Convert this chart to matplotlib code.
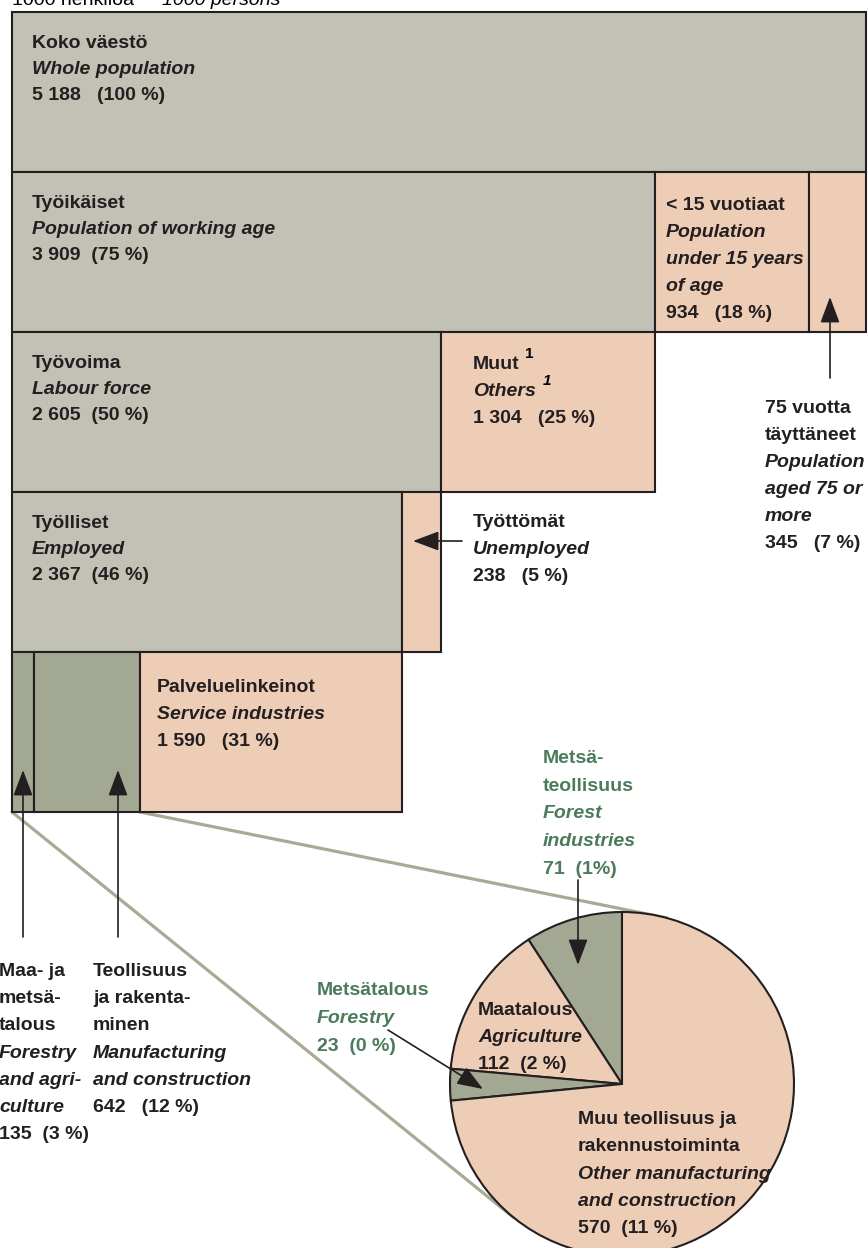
import numpy as np
import matplotlib.pyplot as plt
from matplotlib.patches import ConnectionPatch

plt.rcParams['font.family'] = ['Liberation Sans', 'DejaVu Sans']

# 1000 persons
row_values = [
    [5188],
    [3909, 934, 345],
    [2605, 1304],
    [2367, 238],
    [135, 642, 1590],
]
pie_labels = ['Metsäteollisuus', 'Maatalous', 'Metsätalous', 'Muu teollisuus']
pie_values = [71, 112, 23, 570]

GREY = '#c1c1b5'
PEACH = '#eecdb7'
GREEN = '#a3a893'
EDGE = '#231f20'
LINK = '#a7ab96'
TXT_GREEN = '#4b7b5b'

row_colors = [
    [GREY],
    [GREY, PEACH, PEACH],
    [GREY, PEACH],
    [GREY, PEACH],
    [GREEN, GREEN, PEACH],
]
pie_colors = [GREEN, PEACH, GREEN, PEACH]

W, H = 868, 1248
X0, S = 12, 0.1646      # left edge (px) and px per 1000 persons
TOP, ROW_H = 12, 160

fig = plt.figure(figsize=(W / 100, H / 100), dpi=100)

# bars: x in 1000 persons, y in pixels
ax = fig.add_axes([0, 0, 1, 1])
ax.set_xlim(-X0 / S, (W - X0) / S)
ax.set_ylim(H, 0)
ax.axis('off')
for i, (vals, cols) in enumerate(zip(row_values, row_colors)):
    lefts = np.concatenate([[0], np.cumsum(vals)[:-1]])
    ax.barh(TOP + ROW_H * i + ROW_H / 2, vals, left=lefts, height=ROW_H,
            color=cols, edgecolor=EDGE, linewidth=1.5)

# pie (zoom of manufacturing + primary production)
cx, cy, r = 622, 1084, 172
pad = 1.05
pax = fig.add_axes([(cx - r * pad) / W, (H - cy - r * pad) / H,
                    2 * r * pad / W, 2 * r * pad / H])
pax.pie(pie_values, colors=pie_colors, startangle=90, counterclock=True,
        wedgeprops=dict(edgecolor=EDGE, linewidth=1.5))
pax.set_xlim(-pad, pad)
pax.set_ylim(-pad, pad)
pax.axis('off')

# connector lines from bar corners to the pie
bottom = TOP + ROW_H * len(row_values)
for xa, ang in [(0, 231), (sum(row_values[4][:2]), 75)]:
    con = ConnectionPatch(xyA=(xa, bottom), coordsA=ax.transData,
                          xyB=(np.cos(np.radians(ang)), np.sin(np.radians(ang))),
                          coordsB=pax.transData, color=LINK, linewidth=2.3, zorder=0.5)
    con.set_clip_on(False)
    ax.add_artist(con)

# overlay for texts and arrows, pixel coordinates
ov = fig.add_axes([0, 0, 1, 1])
ov.set_xlim(0, W)
ov.set_ylim(H, 0)
ov.axis('off')
ov.patch.set_alpha(0)

FS = 14


def label(x, y, lines, step=27, color='#231f20'):
    for k, (txt, st) in enumerate(lines):
        ov.text(x, y + k * step, txt, fontsize=FS, fontweight='bold',
                fontstyle='italic' if st == 'i' else 'normal',
                color=color, va='baseline', ha='left')


ov.text(12, 5, '1000 henkilöä', fontsize=FS, va='baseline')
ov.text(162, 5, '1000 persons', fontsize=FS, style='italic', va='baseline')

label(32, 48, [('Koko väestö', 'b'), ('Whole population', 'i'), ('5 188   (100 %)', 'b')], 26)
label(32, 208, [('Työikäiset', 'b'), ('Population of working age', 'i'), ('3 909  (75 %)', 'b')], 26)
label(32, 368, [('Työvoima', 'b'), ('Labour force', 'i'), ('2 605  (50 %)', 'b')], 26)
label(32, 528, [('Työlliset', 'b'), ('Employed', 'i'), ('2 367  (46 %)', 'b')], 26)
label(157, 692, [('Palveluelinkeinot', 'b'), ('Service industries', 'i'), ('1 590   (31 %)', 'b')], 27)
label(473, 369, [('Muut', 'b'), ('Others', 'i'), ('1 304   (25 %)', 'b')], 27)
ov.text(525, 358, '1', fontsize=11, fontweight='bold', va='baseline')
ov.text(543, 385, '1', fontsize=11, fontweight='bold', style='italic', va='baseline')
label(473, 527, [('Työttömät', 'b'), ('Unemployed', 'i'), ('238   (5 %)', 'b')], 27)
label(666, 210, [('< 15 vuotiaat', 'b'), ('Population', 'i'), ('under 15 years', 'i'),
                 ('of age', 'i'), ('934   (18 %)', 'b')], 27)
label(765, 413, [('75 vuotta', 'b'), ('täyttäneet', 'b'), ('Population', 'i'),
                 ('aged 75 or', 'i'), ('more', 'i'), ('345   (7 %)', 'b')], 27)
label(-1, 976, [('Maa- ja', 'b'), ('metsä-', 'b'), ('talous', 'b'), ('Forestry', 'i'),
                ('and agri-', 'i'), ('culture', 'i'), ('135  (3 %)', 'b')], 27.2)
label(93, 976, [('Teollisuus', 'b'), ('ja rakenta-', 'b'), ('minen', 'b'),
                ('Manufacturing', 'i'), ('and construction', 'i'), ('642   (12 %)', 'b')], 27.2)
label(543, 763, [('Metsä-', 'b'), ('teollisuus', 'b'), ('Forest', 'i'),
                 ('industries', 'i'), ('71  (1%)', 'b')], 27.7, TXT_GREEN)
label(317, 995, [('Metsätalous', 'b'), ('Forestry', 'i'), ('23  (0 %)', 'b')], 28, TXT_GREEN)
label(478, 1015, [('Maatalous', 'b'), ('Agriculture', 'i'), ('112  (2 %)', 'b')], 27)
label(578, 1124, [('Muu teollisuus ja', 'b'), ('rakennustoiminta', 'b'),
                  ('Other manufacturing', 'i'), ('and construction', 'i'),
                  ('570  (11 %)', 'b')], 27.3)

arrows = [((830, 378), (830, 297)), ((462, 541), (413, 541)),
          ((23, 937), (23, 770)), ((118, 937), (118, 770)),
          ((578, 880), (578, 965)), ((388, 1030), (483, 1089))]
for tail, tip in arrows:
    ov.annotate('', xy=tip, xytext=tail,
                arrowprops=dict(arrowstyle='-|>,head_length=0.8,head_width=0.3',
                                mutation_scale=20, color=EDGE, lw=1.2,
                                shrinkA=0, shrinkB=0))

fig.savefig('out.png', dpi=100)
